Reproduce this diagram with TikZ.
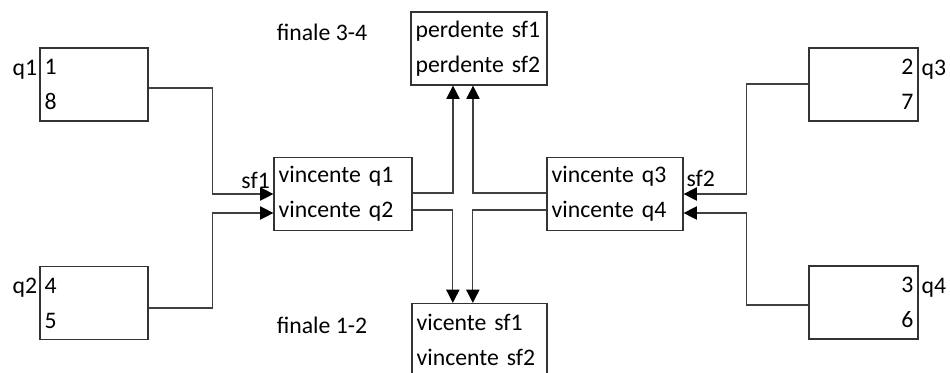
\documentclass[tikz,border=0pt]{standalone}
\usepackage{fontspec}
\setmainfont{Carlito}
\usetikzlibrary{arrows.meta}

\begin{document}
\begin{tikzpicture}[x=0.75pt, y=-0.75pt,
   box_style/.style={draw=black!80, line width=0.9pt, inner xsep=3.5pt, inner ysep=0pt,
     minimum height=54.75pt, font=\fontsize{17.8}{26.25}\selectfont},
   leftbox/.style={box_style, align=left},
   rightbox/.style={box_style, align=right},
   label_style/.style={inner sep=0pt, font=\fontsize{17.8}{21}\selectfont},
   edge_style/.style={draw=black!75, line width=0.9pt, -{Triangle[length=10pt, width=10pt, color=black]}}]
	  \useasboundingbox (0,0) rectangle (950,372);

	  \node [leftbox, text width=74pt] (q1) at (94,84.5) {1\\8};
	  \node [leftbox, text width=74pt] (q2) at (94,303) {4\\5};
	  \node [leftbox, text width=96.5pt] (sf1) at (343,194) {vincente q1\\vincente q2};
	  \node [leftbox, text width=95pt] (p34) at (479,48.5) {perdente sf1\\perdente sf2};
	  \node [leftbox, text width=94.25pt] (v12) at (479.5,340) {vicente sf1\\vincente sf2};
	  \node [leftbox, text width=95pt] (sf2) at (615,194) {vincente q3\\vincente q4};
	  \node [rightbox, text width=74.75pt] (q3) at (863.5,84.5) {2\\7};
	  \node [rightbox, text width=74.75pt] (q4) at (863.5,302.5) {3\\6};

	  \node [label_style, anchor=east] (q1lab) at ([xshift=-1.5pt, yshift=10.9pt]q1.west) {q1};
	  \node [label_style, anchor=east] (q2lab) at ([xshift=-1.5pt, yshift=11.25pt]q2.west) {q2};
	  \node [label_style, anchor=west] (q3lab) at ([xshift=2pt, yshift=10.9pt]q3.east) {q3};
	  \node [label_style, anchor=west] (q4lab) at ([xshift=2pt, yshift=11.25pt]q4.east) {q4};
	  \node [label_style, anchor=east] (sf1lab) at ([xshift=-2.5pt, yshift=10.5pt]sf1.west) {sf1};
	  \node [label_style, anchor=west] (sf2lab) at ([xshift=2pt, yshift=11.5pt]sf2.east) {sf2};
	  \node [label_style] (f34) at (322,32) {finale 3-4};
	  \node [label_style] (f12) at (322,325) {finale 1-2};

	  \draw [edge_style] ([yshift=-2.6pt]q1.east) -- ++(64,0) |- (sf1.west);
	  \draw [edge_style] ([yshift=-3.75pt]q2.east) -- ++(64,0) |- ([yshift=-14.25pt]sf1.west);
	  \draw [edge_style] ([yshift=0.4pt]q3.west) -- ++(-62,0) |- (sf2.east);
	  \draw [edge_style] ([yshift=-1.9pt]q4.west) -- ++(-62,0) |- ([yshift=-14.25pt]sf2.east);

	  \foreach \from/\dy/\to/\dx in {sf1.east/0.75pt/p34.south/-19.5pt, sf2.west/0.75pt/p34.south/-4.5pt,
	      sf1.east/-12pt/v12.north/-20pt, sf2.west/-12pt/v12.north/-5pt}
	    \draw [edge_style] ([yshift=\dy]\from) -| ([xshift=\dx]\to);

	\end{tikzpicture}
\end{document}
